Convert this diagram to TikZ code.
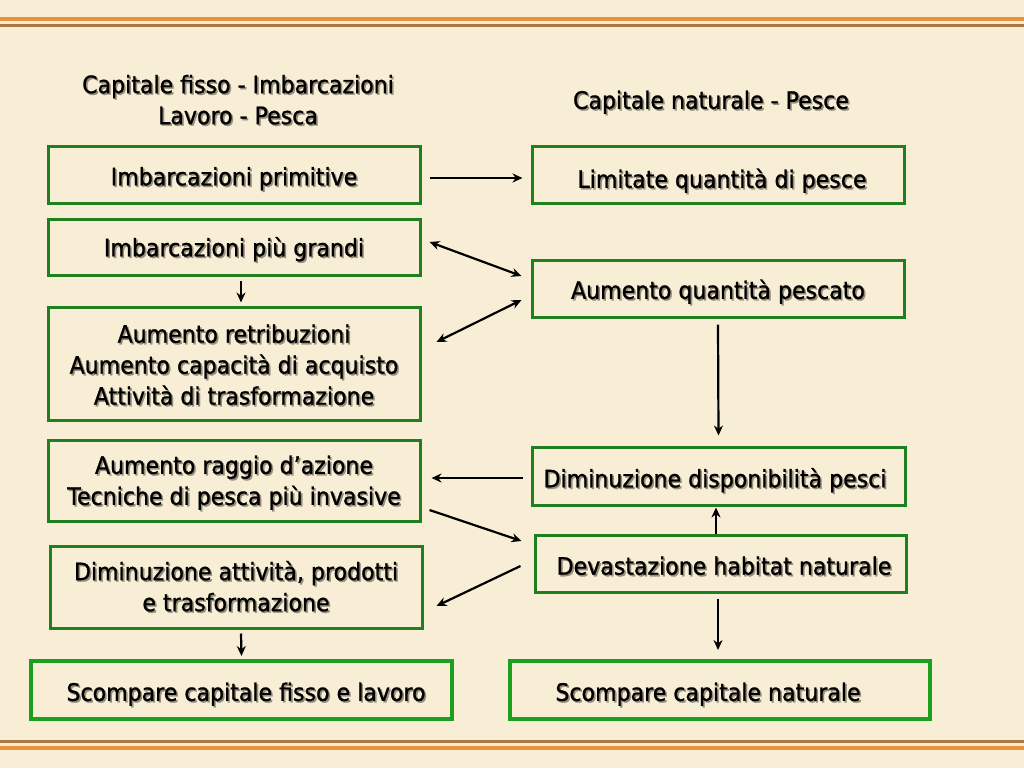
\documentclass[tikz,border=0pt]{standalone}
\usepackage{fontspec}
\setmainfont{DejaVu Sans}[FakeStretch=0.92,FakeBold=1]
\usetikzlibrary{arrows.meta}

\definecolor{parchment}{RGB}{247,238,213}
\definecolor{boxgreen}{RGB}{32,128,32}
\definecolor{endgreen}{RGB}{30,158,30}
\definecolor{shadowgrey}{RGB}{150,142,124}
\definecolor{railorange}{RGB}{232,146,62}
\definecolor{railbrown}{RGB}{170,118,70}

% text with a soft drop shadow, optionally lowered
\newcommand\shtxt[2][0pt]{\raisebox{-#1}[\height][\depth]{\rlap{\kern1.6pt\raisebox{-1.6pt}{\textcolor{shadowgrey}{#2}}}#2}}

\tikzset{
  flowbox/.style={draw=boxgreen, line width=3pt, rectangle, align=center,
    inner sep=0pt, font=\fontsize{24}{31}\selectfont},
  endbox/.style={flowbox, draw=endgreen, line width=4pt},
  heading/.style={align=center, inner sep=0pt, font=\fontsize{24}{31}\selectfont},
  flowarrow/.style={-{Stealth[length=10pt,width=9pt]}, line width=2.2pt},
  bothways/.style={{Stealth[length=10pt,width=9pt]}-{Stealth[length=10pt,width=9pt]}, line width=2.2pt}
}

\begin{document}
\begin{tikzpicture}[x=1pt, y=-1pt]
    % Page and rails
    \fill[parchment] (0,0) rectangle (1024,768);
    \useasboundingbox (0,0) rectangle (1024,768);
    \draw[railorange, line width=4pt] (0,19) -- (1024,19);
    \draw[railbrown, line width=3pt] (0,26) -- (1024,26);
    \draw[railbrown, line width=3pt] (0,741) -- (1024,741);
    \draw[railorange, line width=4pt] (0,748) -- (1024,748);

    % Headings
    \node[heading] (headL) at (238,100.5) {\shtxt{Capitale fisso - Imbarcazioni}\\\shtxt{Lavoro - Pesca}};
    \node[heading] (headR) at (711,103) {\shtxt{Capitale naturale - Pesce}};

    % Left column: capitale fisso e lavoro
    \node[flowbox, minimum width=372, minimum height=57] (imbPrim) at (234,174.5) {\shtxt[5pt]{Imbarcazioni primitive}};
    \node[flowbox, minimum width=372, minimum height=56] (imbGrandi) at (234,247) {\shtxt[3pt]{Imbarcazioni più grandi}};
    \node[flowbox, minimum width=372, minimum height=113] (aumRetr) at (234,363.5)
        {\shtxt[2pt]{Aumento retribuzioni}\\\shtxt[2pt]{Aumento capacità di acquisto}\\\shtxt[2pt]{Attività di trasformazione}};
    \node[flowbox, minimum width=372, minimum height=81] (aumRaggio) at (234,480.5)
        {\shtxt[3pt]{Aumento raggio d’azione}\\\shtxt[3pt]{Tecniche di pesca più invasive}};
    \node[flowbox, minimum width=372, minimum height=82] (dimAtt) at (236,587)
        {\shtxt{Diminuzione attività, prodotti}\\\shtxt{e trasformazione}};
    \node[endbox, minimum width=421, minimum height=58] (scompFisso) at (241.5,690)
        {\hspace*{9pt}\shtxt[5pt]{Scompare capitale fisso e lavoro}};

    % Right column: capitale naturale
    \node[flowbox, minimum width=372, minimum height=57] (limQuant) at (718,174.5)
        {\hspace*{8pt}\shtxt[7pt]{Limitate quantità di pesce}};
    \node[flowbox, minimum width=372, minimum height=57] (aumPesc) at (718,288.5) {\shtxt[4pt]{Aumento quantità pescato}};
    \node[flowbox, minimum width=373, minimum height=58] (dimDisp) at (718.5,476)
        {\shtxt[5pt]{Diminuzione disponibilità pesci}\hspace*{7pt}};
    \node[flowbox, minimum width=371, minimum height=57] (devast) at (720.5,563.5)
        {\hspace*{7pt}\shtxt[3pt]{Devastazione habitat naturale}};
    \node[endbox, minimum width=420, minimum height=58] (scompNat) at (720,690)
        {\shtxt[5pt]{Scompare capitale naturale}\hspace*{24pt}};

    % Connectors
    \draw[flowarrow] ([shift={(8,3.5)}]imbPrim.east) -- ([shift={(-8,3.5)}]limQuant.west);
    \draw[bothways] ([shift={(8,-5)}]imbGrandi.east) -- ([shift={(-9,-12.5)}]aumPesc.west);
    \draw[bothways] ([shift={(-9,11.5)}]aumPesc.west) -- ([shift={(15,-21.5)}]aumRetr.east);
    \draw[flowarrow] ([shift={(7,4)}]imbGrandi.south) -- ([shift={(7,-3)}]aumRetr.north);
    \draw[flowarrow] ([shift={(0,6)}]aumPesc.south) -- ([shift={(0,-10)}]dimDisp.north);
    \draw[flowarrow] ([shift={(-8,2)}]dimDisp.west) -- ([shift={(10,-2.5)}]aumRaggio.east);
    \draw[flowarrow] ([shift={(8,29.5)}]aumRaggio.east) -- ([shift={(-12,-22.5)}]devast.west);
    \draw[flowarrow] ([shift={(-13,2.5)}]devast.west) -- ([shift={(13,19)}]dimAtt.east);
    \draw[flowarrow] ([shift={(-4.5,0)}]devast.north) -- ([shift={(-2.5,1)}]dimDisp.south);
    \draw[flowarrow] ([shift={(5,4)}]dimAtt.south) -- ([shift={(0,-3)}]scompFisso.north);
    \draw[flowarrow] ([shift={(-2.5,5)}]devast.south) -- ([shift={(-2,-9)}]scompNat.north);
\end{tikzpicture}
\end{document}
